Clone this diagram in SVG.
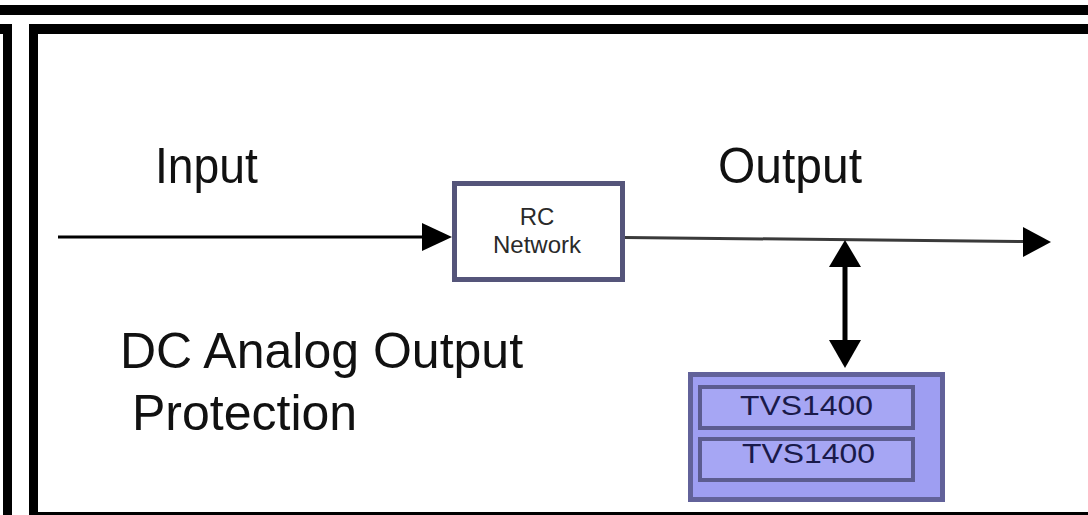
<svg xmlns="http://www.w3.org/2000/svg" width="1088" height="515" viewBox="0 0 1088 515">
  <style>
    .lbl { font-family: "Liberation Sans", Arial, sans-serif; fill: #111; }
    .big { font-size: 50px; }
    .small { font-size: 24px; fill: #2a2a2a; text-anchor: middle; }
    .tvs { font-size: 28px; fill: #1a1a4a; }
    .frame { fill: #000; }
  </style>
  <rect width="1088" height="515" fill="#fff"/>
  <g id="frame">
    <rect class="frame" x="0" y="5" width="1088" height="10"/>
    <rect class="frame" x="0" y="24" width="12" height="10"/>
    <rect class="frame" x="3" y="24" width="9" height="491"/>
    <rect class="frame" x="29" y="24" width="1059" height="10"/>
    <rect class="frame" x="29" y="24" width="9" height="491"/>
    <rect class="frame" x="29" y="512" width="1059" height="3"/>
  </g>
  <g id="labels">
    <text class="lbl big" x="155" y="183" textLength="103" lengthAdjust="spacingAndGlyphs">Input</text>
    <text class="lbl big" x="718" y="183" textLength="144" lengthAdjust="spacingAndGlyphs">Output</text>
    <text class="lbl big" x="120" y="368">DC Analog Output</text>
    <text class="lbl big" x="132" y="430">Protection</text>
  </g>
  <g id="connectors">
    <line x1="58" y1="237" x2="424" y2="237" stroke="#000" stroke-width="3"/>
    <polygon points="422,223 452,237 422,251" fill="#000"/>
    <line x1="625" y1="237.5" x2="1025" y2="241.5" stroke="#3a3a3a" stroke-width="3"/>
    <polygon points="1023,227 1051,242 1023,257" fill="#000"/>
    <line x1="845" y1="262" x2="845" y2="345" stroke="#000" stroke-width="5"/>
    <polygon points="845,240 861,267 829,267" fill="#000"/>
    <polygon points="829,340 861,340 845,368" fill="#000"/>
  </g>
  <g id="rc-network">
    <rect x="454.5" y="183.5" width="168" height="96" fill="#fff" stroke="#55557a" stroke-width="5"/>
    <text class="lbl small" x="537" y="225">RC</text>
    <text class="lbl small" x="537" y="253">Network</text>
  </g>
  <g id="tvs-block">
    <rect x="690.5" y="374.5" width="252" height="125" fill="#9e9ef2" stroke="#62629a" stroke-width="5"/>
    <g id="tvs1">
      <rect x="700" y="387" width="213" height="41" fill="#a6a6f4" stroke="#5c5c90" stroke-width="4"/>
      <text class="lbl tvs" x="740" y="415" textLength="133" lengthAdjust="spacingAndGlyphs">TVS1400</text>
    </g>
    <g id="tvs2">
      <rect x="700" y="439" width="213" height="41" fill="#a6a6f4" stroke="#5c5c90" stroke-width="4"/>
      <text class="lbl tvs" x="742" y="463" textLength="133" lengthAdjust="spacingAndGlyphs">TVS1400</text>
    </g>
  </g>
</svg>
